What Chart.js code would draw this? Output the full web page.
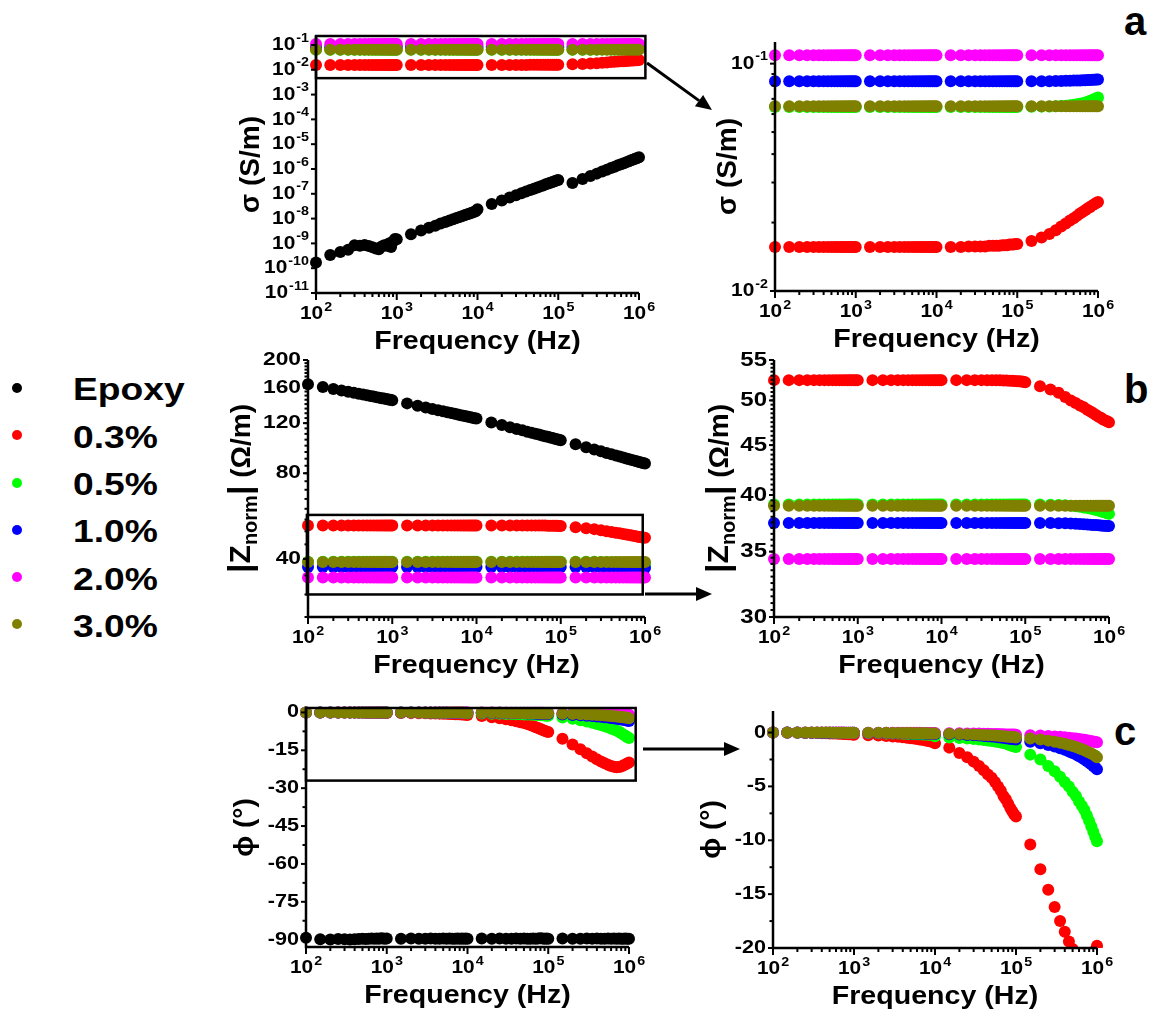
<!DOCTYPE html>
<html>
<head>
<meta charset="utf-8">
<title>Conductivity, impedance and phase vs frequency</title>
<script src="https://cdn.jsdelivr.net/npm/chart.js@4.4.1/dist/chart.umd.min.js"></script>
<style>
  body { margin: 0; background: #fff; }
  #page { position: relative; width: 1151px; height: 1014px; overflow: hidden; background: #fff;
          font-family: "Liberation Sans", Arial, sans-serif; }
  #page canvas { position: absolute; }
  .dot { position: absolute; left: 12px; width: 10px; height: 10px; border-radius: 50%; }
  .lab { position: absolute; left: 73px; font-weight: bold; font-size: 31px; line-height: 31px;
         white-space: nowrap; transform: scaleX(1.2); transform-origin: left center; }
  .tag { position: absolute; font-weight: bold; font-size: 40px; line-height: 40px; }
  #arrows { position: absolute; left: 0; top: 0; }
</style>
</head>
<body>
<div id="page">
  <svg id="arrows" width="1151" height="1014"></svg>
  <div class="tag" style="left:1124px;top:1px">a</div>
  <div class="tag" style="left:1124px;top:369px">b</div>
  <div class="tag" style="left:1114px;top:711px">c</div>
</div>
<script>
// Sweep frequencies (Hz)
const freqHz = [
  100,150,200,250,300,350,400,450,500,550,600,650,700,750,800,850,900,950,
  1000,1500,2000,2500,3000,3500,4000,4500,5000,5500,6000,6500,7000,7500,8000,8500,9000,9500,
  10000,15000,20000,25000,30000,35000,40000,45000,50000,55000,60000,65000,70000,75000,80000,85000,90000,95000,
  100000,150000,200000,250000,300000,350000,400000,450000,500000,550000,600000,650000,700000,750000,800000,850000,900000,950000,
  1000000
];

const seriesNames = ['Epoxy', '0.3%', '0.5%', '1.0%', '2.0%', '3.0%'];
const seriesColors = ['#000000', '#ff0000', '#00ff00', '#0000ff', '#ff00ff', '#808000'];

// Conductivity sigma (S/m)
const sigmaEpoxy = [
  1.7e-10,3.4e-10,4.5e-10,5.5e-10,8.5e-10,8.0e-10,8.7e-10,7.8e-10,7.0e-10,6.2e-10,5.8e-10,7.5e-10,8.5e-10,8.0e-10,1.0e-9,7.2e-10,1.2e-9,1.5e-9,
  1.48e-9,2.35e-9,3.3e-9,4.3e-9,5.2e-9,6.3e-9,7.3e-9,8.3e-9,9.4e-9,1.05e-8,1.16e-8,1.27e-8,1.38e-8,1.5e-8,1.62e-8,1.73e-8,1.85e-8,1.97e-8,
  2.4e-8,3.9e-8,5.4e-8,7.1e-8,8.8e-8,1.05e-7,1.23e-7,1.41e-7,1.6e-7,1.79e-7,1.99e-7,2.18e-7,2.4e-7,2.59e-7,2.79e-7,2.99e-7,3.2e-7,3.42e-7,
  3.6e-7,2.75e-7,3.94e-7,5.2e-7,6.5e-7,7.9e-7,9.4e-7,1.09e-6,1.24e-6,1.4e-6,1.56e-6,1.72e-6,1.89e-6,2.06e-6,2.23e-6,2.41e-6,2.59e-6,2.77e-6,
  2.95e-6
];
const sigma03 = [
  0.0156,0.0156,0.0156,0.0156,0.0156,0.0156,0.0156,0.0156,0.0156,0.0156,0.0156,0.0156,0.0156,0.0156,0.0156,0.0156,0.0156,0.0156,
  0.0156,0.0156,0.0156,0.0156,0.0156,0.0156,0.0156,0.0156,0.0156,0.0156,0.0156,0.0156,0.0156,0.0156,0.0156,0.0156,0.0156,0.0156,
  0.0156,0.0156,0.0156,0.0157,0.0157,0.0157,0.0157,0.0158,0.0158,0.0158,0.0158,0.0159,0.0159,0.0159,0.0160,0.0160,0.0160,0.0161,
  0.0161,0.0166,0.0172,0.0178,0.0185,0.0192,0.0198,0.0204,0.0209,0.0214,0.0219,0.0223,0.0227,0.0231,0.0234,0.0238,0.0241,0.0244,
  0.0246
];
const sigma05 = [
  0.0645,0.0645,0.0645,0.0645,0.0645,0.0645,0.0645,0.0645,0.0645,0.0645,0.0645,0.0645,0.0645,0.0645,0.0645,0.0645,0.0645,0.0645,
  0.0645,0.0645,0.0645,0.0645,0.0645,0.0645,0.0645,0.0645,0.0645,0.0645,0.0645,0.0645,0.0645,0.0645,0.0645,0.0645,0.0645,0.0645,
  0.0645,0.0645,0.0645,0.0645,0.0645,0.0645,0.0645,0.0645,0.0645,0.0645,0.0645,0.0645,0.0645,0.0645,0.0645,0.0645,0.0645,0.0645,
  0.0645,0.0646,0.0647,0.0648,0.0649,0.0651,0.0653,0.0656,0.0659,0.0662,0.0666,0.0670,0.0675,0.0680,0.0686,0.0692,0.0698,0.0704,
  0.0710
];
const sigma10 = [
  0.0836,0.0836,0.0836,0.0836,0.0836,0.0836,0.0836,0.0836,0.0836,0.0836,0.0836,0.0836,0.0836,0.0836,0.0836,0.0836,0.0836,0.0836,
  0.0836,0.0836,0.0836,0.0836,0.0836,0.0836,0.0836,0.0836,0.0836,0.0836,0.0836,0.0836,0.0836,0.0836,0.0836,0.0836,0.0836,0.0836,
  0.0836,0.0836,0.0836,0.0836,0.0836,0.0836,0.0836,0.0836,0.0836,0.0836,0.0836,0.0836,0.0836,0.0836,0.0836,0.0836,0.0836,0.0836,
  0.0836,0.0836,0.0837,0.0837,0.0838,0.0839,0.0840,0.0841,0.0842,0.0843,0.0844,0.0845,0.0846,0.0847,0.0848,0.0849,0.0850,0.0851,
  0.0852
];
const sigma20 = [
  0.1088,0.1088,0.1088,0.1088,0.1088,0.1088,0.1088,0.1088,0.1088,0.1088,0.1088,0.1088,0.1088,0.1088,0.1088,0.1088,0.1088,0.1088,
  0.1088,0.1088,0.1088,0.1088,0.1088,0.1088,0.1088,0.1088,0.1088,0.1088,0.1088,0.1088,0.1088,0.1088,0.1088,0.1088,0.1088,0.1088,
  0.1088,0.1088,0.1088,0.1088,0.1088,0.1088,0.1088,0.1088,0.1088,0.1088,0.1088,0.1088,0.1088,0.1088,0.1088,0.1088,0.1088,0.1088,
  0.1088,0.1088,0.1088,0.1088,0.1088,0.1088,0.1088,0.1088,0.1088,0.1088,0.1088,0.1088,0.1088,0.1088,0.1088,0.1088,0.1088,0.1088,
  0.1088
];
const sigma30 = [
  0.0649,0.0649,0.0649,0.0649,0.0649,0.0649,0.0649,0.0649,0.0649,0.0649,0.0649,0.0649,0.0649,0.0649,0.0649,0.0649,0.0649,0.0649,
  0.0649,0.0649,0.0649,0.0649,0.0649,0.0649,0.0649,0.0649,0.0649,0.0649,0.0649,0.0649,0.0649,0.0649,0.0649,0.0649,0.0649,0.0649,
  0.0649,0.0649,0.0649,0.0649,0.0649,0.0649,0.0649,0.0649,0.0649,0.0649,0.0649,0.0649,0.0649,0.0649,0.0649,0.0649,0.0649,0.0649,
  0.0649,0.0649,0.0649,0.0649,0.0649,0.0649,0.0649,0.0649,0.0649,0.0649,0.0649,0.0649,0.0649,0.0649,0.0649,0.0649,0.0649,0.0649,
  0.0649
];

// Normalised impedance |Z_norm| (Ohm/m)
const zEpoxy = [
  164.4,160.7,158.2,156.2,154.7,153.3,152.2,151.2,150.3,149.5,148.8,148.1,147.5,146.9,146.4,145.9,145.4,145.0,
  144.5,140.8,138.2,136.2,134.6,133.3,132.1,131.1,130.2,129.4,128.7,128.0,127.4,126.8,126.3,125.8,125.3,124.9,
  124.5,120.7,118.1,116.1,114.5,113.2,112.0,111.0,110.1,109.4,108.6,107.9,107.4,106.8,106.3,105.8,105.3,104.9,
  104.5,101.1,98.7,96.9,95.5,94.3,93.2,92.3,91.6,90.8,90.2,89.6,89.1,88.6,88.1,87.7,87.3,86.9,
  86.5
];
const z03 = [
  52.45,52.45,52.45,52.45,52.45,52.45,52.45,52.45,52.45,52.45,52.45,52.45,52.45,52.45,52.45,52.45,52.45,52.45,
  52.45,52.45,52.45,52.45,52.45,52.45,52.45,52.45,52.45,52.45,52.45,52.45,52.45,52.45,52.45,52.45,52.45,52.45,
  52.45,52.45,52.45,52.45,52.45,52.44,52.44,52.43,52.42,52.41,52.40,52.38,52.36,52.34,52.32,52.30,52.28,52.25,
  52.2,51.7,51.3,50.9,50.4,50.0,49.7,49.4,49.2,48.9,48.7,48.5,48.3,48.1,48.0,47.8,47.7,47.6,
  47.5
];
const z05 = [
  39.12,39.12,39.12,39.12,39.12,39.12,39.12,39.12,39.12,39.12,39.12,39.12,39.12,39.12,39.12,39.12,39.12,39.12,
  39.12,39.12,39.12,39.12,39.12,39.12,39.12,39.12,39.12,39.12,39.12,39.12,39.12,39.12,39.12,39.12,39.12,39.12,
  39.12,39.12,39.12,39.12,39.12,39.12,39.12,39.12,39.12,39.12,39.12,39.12,39.12,39.12,39.12,39.12,39.12,39.12,
  39.12,39.12,39.1,39.08,39.05,39.0,38.95,38.9,38.85,38.8,38.74,38.68,38.62,38.56,38.5,38.44,38.38,38.32,
  38.26
];
const z10 = [
  37.45,37.45,37.45,37.45,37.45,37.45,37.45,37.45,37.45,37.45,37.45,37.45,37.45,37.45,37.45,37.45,37.45,37.45,
  37.45,37.45,37.45,37.45,37.45,37.45,37.45,37.45,37.45,37.45,37.45,37.45,37.45,37.45,37.45,37.45,37.45,37.45,
  37.45,37.45,37.45,37.45,37.45,37.45,37.45,37.45,37.45,37.45,37.45,37.45,37.45,37.45,37.45,37.45,37.45,37.45,
  37.45,37.45,37.44,37.43,37.42,37.40,37.38,37.36,37.34,37.32,37.30,37.28,37.26,37.24,37.22,37.21,37.20,37.19,
  37.18
];
const z20 = [
  34.4,34.4,34.4,34.4,34.4,34.4,34.4,34.4,34.4,34.4,34.4,34.4,34.4,34.4,34.4,34.4,34.4,34.4,
  34.4,34.4,34.4,34.4,34.4,34.4,34.4,34.4,34.4,34.4,34.4,34.4,34.4,34.4,34.4,34.4,34.4,34.4,
  34.4,34.4,34.4,34.4,34.4,34.4,34.4,34.4,34.4,34.4,34.4,34.4,34.4,34.4,34.4,34.4,34.4,34.4,
  34.4,34.4,34.4,34.4,34.4,34.4,34.4,34.4,34.4,34.4,34.4,34.4,34.4,34.4,34.4,34.4,34.4,34.4,
  34.4
];
const z30 = [
  39.0,39.0,39.0,39.0,39.0,39.0,39.0,39.0,39.0,39.0,39.0,39.0,39.0,39.0,39.0,39.0,39.0,39.0,
  39.0,39.0,39.0,39.0,39.0,39.0,39.0,39.0,39.0,39.0,39.0,39.0,39.0,39.0,39.0,39.0,39.0,39.0,
  39.0,39.0,39.0,39.0,39.0,39.0,39.0,39.0,39.0,39.0,39.0,39.0,39.0,39.0,39.0,39.0,39.0,39.0,
  39.0,39.0,39.0,39.0,39.0,39.0,39.0,39.0,39.0,39.0,39.0,39.0,39.0,39.0,39.0,39.0,39.0,39.0,
  39.0
];

// Phase angle phi (degrees)
const phiEpoxy = [
  -89.2,-89.8,-89.9,-89.7,-89.8,-89.9,-89.8,-89.7,-89.6,-89.7,-89.6,-89.5,-89.6,-89.5,-89.6,-89.4,-89.5,-89.6,
  -89.5,-89.6,-89.5,-89.6,-89.6,-89.5,-89.6,-89.6,-89.5,-89.6,-89.5,-89.6,-89.6,-89.5,-89.6,-89.5,-89.6,-89.5,
  -89.6,-89.5,-89.6,-89.5,-89.6,-89.6,-89.5,-89.6,-89.5,-89.6,-89.6,-89.5,-89.6,-89.5,-89.4,-89.5,-89.6,-89.5,
  -89.6,-89.5,-89.6,-89.6,-89.5,-89.6,-89.5,-89.6,-89.6,-89.5,-89.6,-89.5,-89.6,-89.5,-89.6,-89.6,-89.5,-89.6,
  -89.6
];
const phi03 = [
  0,-0.02,-0.03,-0.04,-0.05,-0.05,-0.06,-0.07,-0.08,-0.09,-0.1,-0.11,-0.12,-0.13,-0.14,-0.15,-0.16,-0.17,
  -0.2,-0.25,-0.28,-0.32,-0.36,-0.40,-0.44,-0.48,-0.52,-0.56,-0.60,-0.64,-0.68,-0.72,-0.76,-0.80,-0.84,-0.88,
  -1.0,-1.4,-1.9,-2.3,-2.7,-3.1,-3.5,-3.9,-4.2,-4.6,-5.0,-5.4,-5.9,-6.2,-6.6,-7.0,-7.3,-7.6,
  -7.8,-10.4,-12.7,-14.6,-16.2,-17.5,-18.5,-19.4,-20.1,-20.7,-21.2,-21.5,-21.7,-21.6,-21.4,-21.0,-20.6,-20.2,
  -19.8
];
const phi05 = [
  0,0,-0.01,-0.01,-0.01,-0.02,-0.02,-0.02,-0.02,-0.03,-0.03,-0.03,-0.03,-0.04,-0.04,-0.04,-0.04,-0.05,
  -0.05,-0.06,-0.07,-0.08,-0.09,-0.1,-0.11,-0.12,-0.13,-0.14,-0.15,-0.16,-0.17,-0.18,-0.19,-0.2,-0.21,-0.22,
  -0.35,-0.45,-0.5,-0.55,-0.6,-0.65,-0.7,-0.74,-0.78,-0.82,-0.87,-0.92,-0.97,-1.02,-1.1,-1.17,-1.24,-1.3,
  -1.35,-2.05,-2.5,-3.1,-3.6,-4.1,-4.6,-5.0,-5.5,-5.9,-6.4,-6.8,-7.2,-7.7,-8.2,-8.7,-9.2,-9.7,
  -10.1
];
const phi10 = [
  0,0,0,-0.01,-0.01,-0.01,-0.01,-0.01,-0.01,-0.02,-0.02,-0.02,-0.02,-0.02,-0.02,-0.02,-0.03,-0.03,
  -0.03,-0.04,-0.05,-0.05,-0.06,-0.06,-0.07,-0.07,-0.08,-0.08,-0.09,-0.09,-0.1,-0.1,-0.11,-0.11,-0.12,-0.12,
  -0.13,-0.16,-0.19,-0.22,-0.25,-0.28,-0.31,-0.34,-0.37,-0.40,-0.43,-0.46,-0.49,-0.52,-0.55,-0.58,-0.61,-0.63,
  -0.65,-0.85,-1.0,-1.15,-1.3,-1.45,-1.6,-1.75,-1.9,-2.05,-2.2,-2.35,-2.5,-2.65,-2.8,-2.95,-3.1,-3.25,
  -3.4
];
const phi20 = [
  0,0,0,0,0,0,0,0,0,0,0,0,0,0,-0.01,-0.01,-0.01,-0.01,
  -0.01,-0.01,-0.01,-0.02,-0.02,-0.02,-0.02,-0.03,-0.03,-0.03,-0.03,-0.03,-0.04,-0.04,-0.04,-0.04,-0.05,-0.05,
  -0.05,-0.06,-0.07,-0.08,-0.09,-0.1,-0.11,-0.12,-0.13,-0.14,-0.14,-0.15,-0.16,-0.17,-0.17,-0.18,-0.19,-0.19,
  -0.2,-0.24,-0.28,-0.32,-0.36,-0.4,-0.44,-0.48,-0.52,-0.56,-0.6,-0.64,-0.68,-0.72,-0.76,-0.8,-0.84,-0.87,
  -0.9
];
const phi30 = [
  0,0,0,0,0,0,0,0,0,-0.01,-0.01,-0.01,-0.01,-0.01,-0.01,-0.01,-0.02,-0.02,
  -0.02,-0.02,-0.03,-0.03,-0.04,-0.04,-0.05,-0.05,-0.05,-0.06,-0.06,-0.07,-0.07,-0.07,-0.08,-0.08,-0.09,-0.09,
  -0.1,-0.12,-0.14,-0.16,-0.18,-0.2,-0.22,-0.24,-0.26,-0.28,-0.3,-0.32,-0.34,-0.36,-0.38,-0.4,-0.42,-0.44,
  -0.45,-0.55,-0.65,-0.75,-0.85,-0.95,-1.05,-1.15,-1.25,-1.35,-1.45,-1.55,-1.65,-1.75,-1.85,-1.95,-2.05,-2.15,
  -2.3
];

// Tick labels
const freqTickExps = [2, 3, 4, 5, 6];
const sigmaTicksWide = [1e-11, 1e-10, 1e-9, 1e-8, 1e-7, 1e-6, 1e-5, 1e-4, 1e-3, 1e-2, 1e-1];
const sigmaTicksZoom = [1e-2, 1e-1];
const zTicksWide = [40, 80, 120, 160, 200];
const zTicksZoom = [30, 35, 40, 45, 50, 55];
const phiTicksWide = [0, -15, -30, -45, -60, -75, -90];
const phiTicksZoom = [0, -5, -10, -15, -20];

const sigmaSeries = [sigmaEpoxy, sigma03, sigma05, sigma10, sigma20, sigma30];
const zSeries = [zEpoxy, z03, z05, z10, z20, z30];
const phiSeries = [phiEpoxy, phi03, phi05, phi10, phi20, phi30];

const FONT = '"Liberation Sans", Arial, sans-serif';

function range(a, b, step) {
  const out = [];
  for (let v = a; v <= b + 1e-9; v += step) out.push(Math.round(v * 100) / 100);
  return out;
}

// Panel layout: canvas box and plot area in page pixels
const panels = [
  { id: 'aL', cv: [215, 10, 450, 355], plot: [316, 36, 639, 293],
    y: { type: 'logarithmic', min: 1e-11, max: 0.23 }, series: sigmaSeries,
    major: sigmaTicksWide, minor: [], fmt: 'pow', title: 'sigma', titleGap: 65,
    box: { x0: 100, x1: 1.2e6, y0: 4.6e-3, y1: 0.23 } },
  { id: 'aR', cv: [680, 10, 450, 355], plot: [775, 42, 1098, 291],
    y: { type: 'logarithmic', min: 0.01, max: 0.1245 }, series: sigmaSeries,
    major: sigmaTicksZoom, minor: range(0.02, 0.09, 0.01), fmt: 'pow', title: 'sigma', titleGap: 47 },
  { id: 'bL', cv: [215, 345, 450, 340], plot: [308, 360, 645, 617],
    y: { type: 'logarithmic', min: 25, max: 200 }, series: zSeries,
    major: zTicksWide, minor: range(25, 195, 5), fmt: 'num', labSize: 19, title: 'z', titleGap: 66,
    box: { x0: 97, x1: 9.4e5, y0: 30, y1: 57.1 } },
  { id: 'bR', cv: [680, 345, 450, 340], plot: [774, 360, 1109, 617],
    y: { type: 'logarithmic', min: 30, max: 55 }, series: zSeries,
    major: zTicksZoom, minor: range(30.5, 54.5, 0.5), fmt: 'num', labSize: 20, title: 'z', titleGap: 54 },
  { id: 'cL', cv: [215, 695, 450, 319], plot: [306, 708, 629, 947],
    y: { type: 'linear', min: -92.9, max: 1.75 }, series: phiSeries,
    major: phiTicksWide, minor: range(-82.5, -7.5, 15), fmt: 'num', labSize: 18, title: 'phi', titleGap: 61,
    box: { x0: 100, x1: 1.21e6, y0: -27, y1: 1.75 } },
  { id: 'cR', cv: [680, 695, 450, 319], plot: [773, 711, 1097, 948],
    y: { type: 'linear', min: -20, max: 2 }, series: phiSeries,
    major: phiTicksZoom, minor: [-2.5, -7.5, -12.5, -17.5], fmt: 'num', labSize: 18, title: 'phi', titleGap: 61,
    clipBottom: true }
];

function drawText(ctx, str, x, y, size, align, sx) {
  ctx.save();
  ctx.translate(x, y);
  ctx.scale(sx || 1.1, 1);
  ctx.font = 'bold ' + size + 'px ' + FONT;
  ctx.textAlign = align;
  ctx.textBaseline = 'middle';
  ctx.fillText(str, 0, 0);
  ctx.restore();
}

function textWidth(ctx, str, size, sx) {
  ctx.font = 'bold ' + size + 'px ' + FONT;
  return ctx.measureText(str).width * (sx || 1.1);
}

// "10" with a raised exponent
function drawPower(ctx, exp, x, y, align) {
  const sup = String(exp);
  const w1 = textWidth(ctx, '10', 19), w2 = textWidth(ctx, sup, 13);
  const total = w1 + 1 + w2;
  const x0 = align === 'center' ? x - total / 2 : x - total;
  drawText(ctx, '10', x0, y, 19, 'left');
  drawText(ctx, sup, x0 + w1 + 1, y - 7, 13, 'left');
}

function drawYTitle(ctx, kind, x, y) {
  let runs;
  if (kind === 'sigma') runs = [{ t: 'σ (S/m)', s: 28, dy: 0 }];
  else if (kind === 'phi') runs = [{ t: 'ϕ (°)', s: 28, dy: 0 }];
  else runs = [{ t: '|', s: 34, dy: 0 }, { t: 'Z', s: 30, dy: 0 }, { t: 'norm', s: 20, dy: 9 },
               { t: '|', s: 34, dy: 0 }, { t: ' (Ω/m)', s: 28, dy: 0 }];
  ctx.save();
  ctx.translate(x, y);
  ctx.rotate(-Math.PI / 2);
  ctx.textBaseline = 'middle';
  ctx.textAlign = 'left';
  let total = 0;
  runs.forEach(r => { ctx.font = 'bold ' + r.s + 'px ' + FONT; r.w = ctx.measureText(r.t).width; total += r.w; });
  let cx = -total / 2;
  runs.forEach(r => {
    ctx.font = 'bold ' + r.s + 'px ' + FONT;
    ctx.fillText(r.t, cx, r.dy);
    cx += r.w;
  });
  ctx.restore();
}

// Axes, ticks, labels, titles and zoom boxes for one panel
function framePlugin(p) {
  return {
    id: 'frame' + p.id,
    afterDatasetsDraw(chart) {
      const ctx = chart.ctx, a = chart.chartArea;
      const xs = chart.scales.x, ys = chart.scales.y;
      const line = (x1, y1, x2, y2) => { ctx.beginPath(); ctx.moveTo(x1, y1); ctx.lineTo(x2, y2); ctx.stroke(); };
      ctx.save();
      ctx.strokeStyle = '#000';
      ctx.fillStyle = '#000';

      if (p.box) {
        ctx.lineWidth = 2.5;
        const bx0 = xs.getPixelForValue(p.box.x0), bx1 = xs.getPixelForValue(p.box.x1);
        const by0 = ys.getPixelForValue(p.box.y0), by1 = ys.getPixelForValue(p.box.y1);
        ctx.strokeRect(bx0, by1, bx1 - bx0, by0 - by1);
      }

      ctx.lineWidth = 2.5;
      ctx.beginPath();
      ctx.moveTo(a.left, a.top);
      ctx.lineTo(a.left, a.bottom);
      ctx.lineTo(a.right, a.bottom);
      ctx.stroke();

      ctx.lineWidth = 2;
      freqTickExps.forEach((e, k) => {
        const px = xs.getPixelForValue(Math.pow(10, e));
        line(px, a.bottom, px, a.bottom + 7);
        drawPower(ctx, e, px, a.bottom + 21, 'center');
        if (k < freqTickExps.length - 1) {
          for (let m = 2; m <= 9; m++) {
            const q = xs.getPixelForValue(m * Math.pow(10, e));
            line(q, a.bottom, q, a.bottom + 4);
          }
        }
      });

      p.minor.forEach(v => {
        const py = ys.getPixelForValue(v);
        line(a.left - 3.5, py, a.left, py);
      });
      p.major.forEach(v => {
        const py = ys.getPixelForValue(v);
        line(a.left - 5, py, a.left, py);
        if (p.fmt === 'pow') drawPower(ctx, Math.round(Math.log10(v)), a.left - 7, py, 'right');
        else drawText(ctx, String(v), a.left - 7, py, p.labSize, 'right', 1.2);
      });

      drawText(ctx, 'Frequency (Hz)', (a.left + a.right) / 2, a.bottom + 49, 26, 'center', 1.1);
      drawYTitle(ctx, p.title, a.left - p.titleGap, (a.top + a.bottom) / 2);
      ctx.restore();
    }
  };
}

const page = document.getElementById('page');

panels.forEach(p => {
  const [cx, cy, cw, ch] = p.cv;
  const [pl, pt, pr, pb] = p.plot;
  const canvas = document.createElement('canvas');
  canvas.width = cw;
  canvas.height = ch;
  canvas.style.left = cx + 'px';
  canvas.style.top = cy + 'px';
  canvas.style.width = cw + 'px';
  canvas.style.height = ch + 'px';
  page.appendChild(canvas);

  const clip = p.clipBottom ? { left: 8, top: 8, right: 8, bottom: 0 } : 8;
  const datasets = p.series.map((arr, i) => ({
    label: seriesNames[i],
    data: freqHz.map((f, k) => ({ x: f, y: arr[k] })),
    showLine: false,
    pointRadius: 6,
    pointHoverRadius: 6,
    pointBorderWidth: 0,
    pointBackgroundColor: seriesColors[i],
    borderColor: seriesColors[i],
    order: p.series.length - i,
    clip: clip
  }));

  new Chart(canvas, {
    type: 'scatter',
    data: { datasets: datasets },
    options: {
      responsive: false,
      animation: false,
      events: [],
      layout: {
        autoPadding: false,
        padding: { left: pl - cx, top: pt - cy, right: cx + cw - pr, bottom: cy + ch - pb }
      },
      plugins: { legend: { display: false }, tooltip: { enabled: false } },
      scales: {
        x: { type: 'logarithmic', min: 100, max: 1e6, display: false },
        y: Object.assign({ display: false }, p.y)
      }
    },
    plugins: [framePlugin(p)]
  });
});

// Legend on the left
const legendTextTop = [374, 422, 469, 516, 564, 611];
const legendDotTop = [383, 430, 478, 525, 572, 619];
seriesNames.forEach((name, i) => {
  const dot = document.createElement('div');
  dot.className = 'dot';
  dot.style.top = legendDotTop[i] + 'px';
  dot.style.background = seriesColors[i];
  page.appendChild(dot);
  const lab = document.createElement('div');
  lab.className = 'lab';
  lab.style.top = legendTextTop[i] + 'px';
  lab.textContent = name;
  page.appendChild(lab);
});

// Arrows from zoom boxes to enlarged panels
const svg = document.getElementById('arrows');
const NS = 'http://www.w3.org/2000/svg';
[[647, 63, 712, 110], [645, 594, 712, 594], [643, 749, 740, 749]].forEach(([x1, y1, x2, y2]) => {
  const len = Math.hypot(x2 - x1, y2 - y1);
  const ux = (x2 - x1) / len, uy = (y2 - y1) / len;
  const bx = x2 - 16 * ux, by = y2 - 16 * uy;
  const ln = document.createElementNS(NS, 'line');
  ln.setAttribute('x1', x1); ln.setAttribute('y1', y1);
  ln.setAttribute('x2', bx); ln.setAttribute('y2', by);
  ln.setAttribute('stroke', '#000'); ln.setAttribute('stroke-width', 3);
  svg.appendChild(ln);
  const head = document.createElementNS(NS, 'polygon');
  head.setAttribute('points', [x2, y2, bx - 7 * uy, by + 7 * ux, bx + 7 * uy, by - 7 * ux].join(','));
  head.setAttribute('fill', '#000');
  svg.appendChild(head);
});
</script>
</body>
</html>
